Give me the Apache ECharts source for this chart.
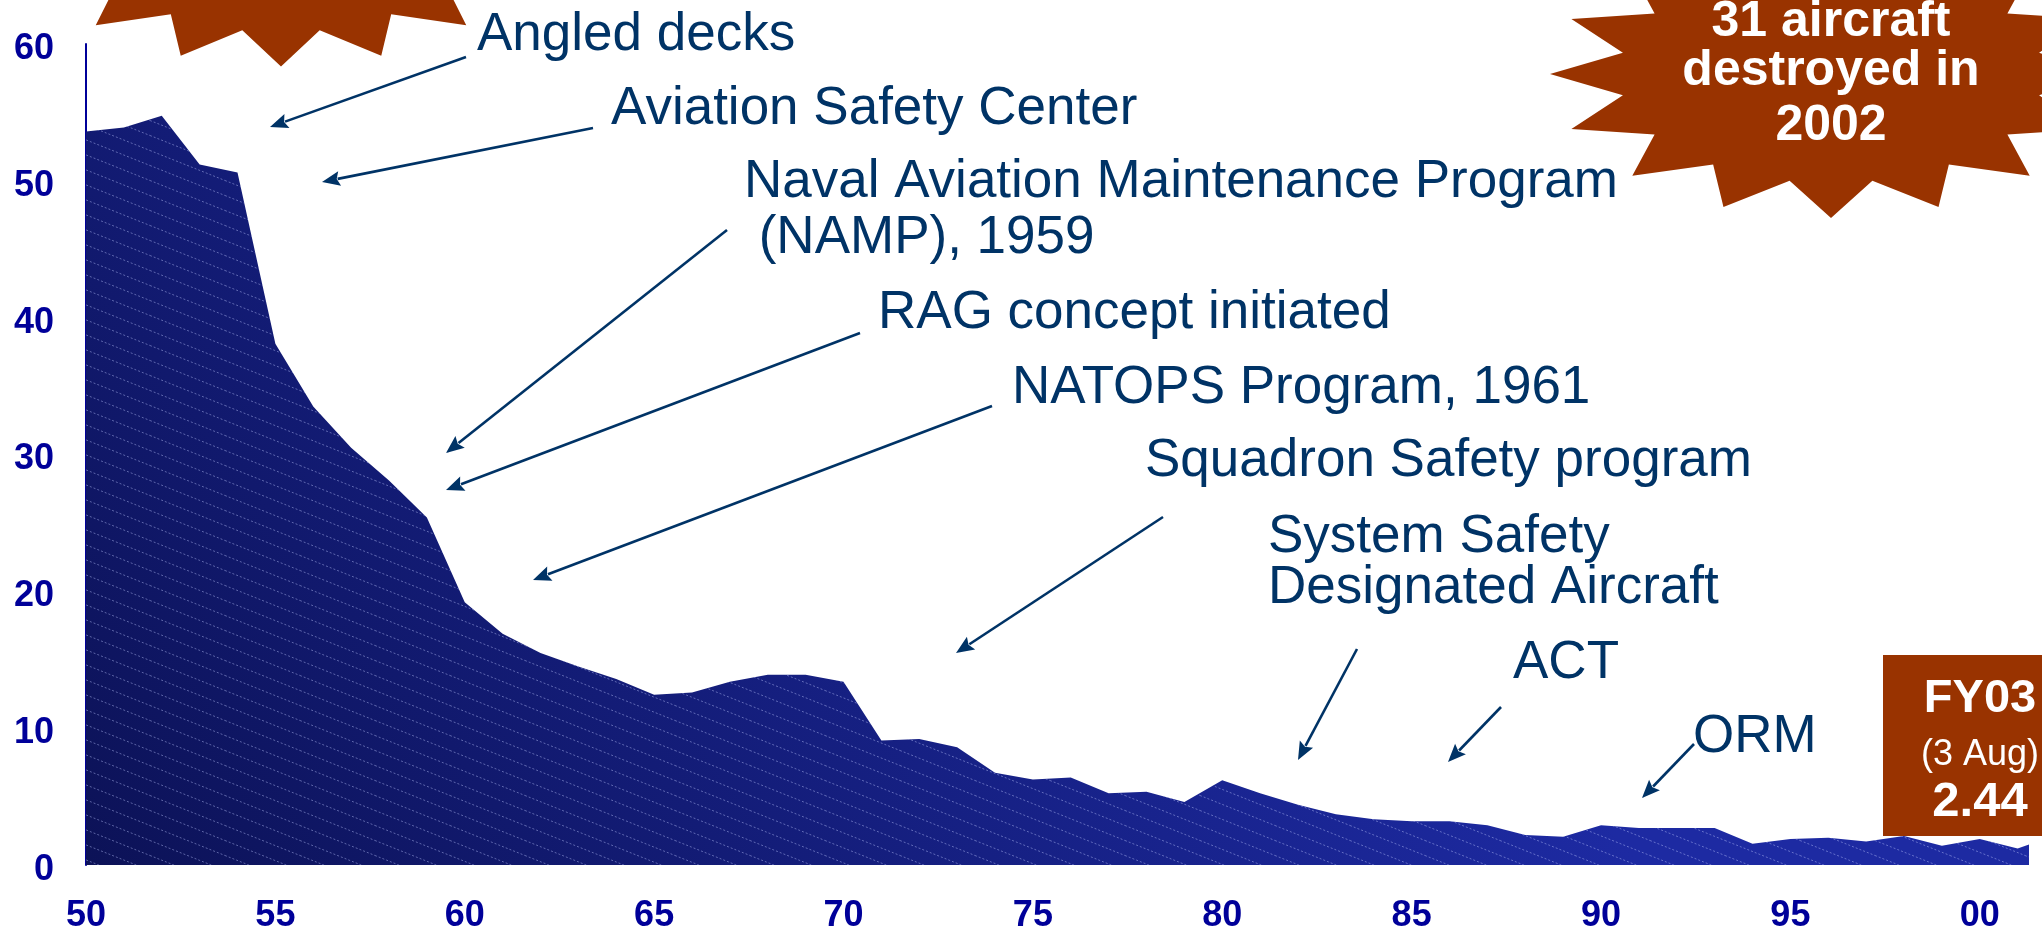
<!DOCTYPE html>
<html><head><meta charset="utf-8">
<script src="https://cdn.jsdelivr.net/npm/echarts@6/dist/echarts.min.js"></script>
<style>html,body{margin:0;padding:0;background:#fff}#c{width:2042px;height:931px}</style>
</head><body><div id="c"></div>
<script>
// ---- data ----
const years = [1950,1951,1952,1953,1954,1955,1956,1957,1958,1959,
               1960,1961,1962,1963,1964,1965,1966,1967,1968,1969,
               1970,1971,1972,1973,1974,1975,1976,1977,1978,1979,
               1980,1981,1982,1983,1984,1985,1986,1987,1988,1989,
               1990,1991,1992,1993,1994,1995,1996,1997,1998,1999,
               2000,2001,2002];
const rates = [53.6,53.9,54.75,51.2,50.6,38.1,33.5,30.5,28.1,25.4,
               19.2,16.9,15.5,14.5,13.6,12.45,12.6,13.4,13.9,13.9,
               13.4,9.1,9.2,8.6,6.75,6.25,6.4,5.25,5.35,4.6,
               6.2,5.25,4.4,3.7,3.35,3.2,3.2,2.9,2.2,2.07,
               2.9,2.7,2.7,2.7,1.55,1.9,2.0,1.72,2.12,1.4,
               1.9,1.2,2.2];
const xTickLabels = ['50','55','60','65','70','75','80','85','90','95','00'];
const yTickValues = [0,10,20,30,40,50,60];
const annotationTexts = ['Angled decks','Aviation Safety Center','Naval Aviation Maintenance Program',
  ' (NAMP), 1959','RAG concept initiated','NATOPS Program, 1961','Squadron Safety program',
  'System Safety','Designated Aircraft','ACT','ORM'];
const burstTexts = ['31 aircraft','destroyed in','2002'];
const fyTexts = ['FY03','(3 Aug)','2.44'];

// ---- layout (positions / styles) ----
const textPos = [[477,35],[611,109],[744,182],[744,238],[878,313],[1012,388],[1145,461],
                 [1268,537],[1268,588],[1513,663],[1693,737]];
const arrows = [[466,57,270,127],[593,128,322,182],[727,230,446,453],[860,333,446,490],
                [992,406,533,580],[1163,517,956,653],[1357,649,1298,760],[1501,707,1448,762],
                [1694,744,1642,798]];
const FONT = '"Liberation Sans", Arial, sans-serif';
const NAVY = '#003366', BROWN = '#993300', AXIS = '#000099';

const seriesData = years.map((y,i)=>[y,rates[i]]);

function starPts(cx,cy,rx,ry,n,inner){
  const p=[];
  for(let i=0;i<2*n;i++){
    const a=Math.PI/2+i*Math.PI/n, r=(i%2)?inner:1;
    p.push([cx+rx*r*Math.cos(a), cy+ry*r*Math.sin(a)]);
  }
  return p;
}
function arrowEls(x1,y1,x2,y2){
  const L=18,H=7.5;
  const dx=x2-x1, dy=y2-y1, d=Math.hypot(dx,dy), ux=dx/d, uy=dy/d;
  const bx=x2-ux*L, by=y2-uy*L;
  return [
    {type:'line',z:100,shape:{x1:x1,y1:y1,x2:bx+ux*2,y2:by+uy*2},style:{stroke:NAVY,lineWidth:2.6}},
    {type:'polygon',z:100,shape:{points:[[x2,y2],[bx-uy*H,by+ux*H],[bx+ux*3,by+uy*3],[bx+uy*H,by-ux*H]]},style:{fill:NAVY}}
  ];
}

// hatch pattern
const pat=document.createElement('canvas');
pat.width=75; pat.height=15;
(function(){
  const g=pat.getContext('2d');
  g.strokeStyle='rgba(190,200,255,0.45)'; g.lineWidth=1; g.setLineDash([2,2]);
  for(let k=-3;k<=2;k++){ g.beginPath(); g.moveTo(0,k*15+0.5); g.lineTo(75,k*15+30.5); g.stroke(); }
})();

const graphics=[];
graphics.push({type:'polygon',z:90,shape:{points:starPts(281,-74.5,262,141,16,0.757)},style:{fill:BROWN}});
graphics.push({type:'polygon',z:90,shape:{points:starPts(1831,74,281,144,16,0.755)},style:{fill:BROWN}});
const bY=[22,71,126];
burstTexts.forEach((t,i)=>graphics.push({type:'text',z:101,x:1831,y:bY[i],
  style:{text:t,fill:'#fff',font:'bold 50px '+FONT,align:'center',verticalAlign:'middle',textAlign:'center',textVerticalAlign:'middle'}}));
graphics.push({type:'rect',z:90,shape:{x:1883,y:655,width:170,height:181},style:{fill:BROWN}});
const fyY=[699,755,802], fyF=['bold 47px ','36px ','bold 49px '];
fyTexts.forEach((t,i)=>graphics.push({type:'text',z:101,x:1980,y:fyY[i],
  style:{text:t,fill:'#fff',font:fyF[i]+FONT,align:'center',verticalAlign:'middle',textAlign:'center',textVerticalAlign:'middle'}}));
annotationTexts.forEach((t,i)=>graphics.push({type:'text',z:101,x:textPos[i][0],y:textPos[i][1],
  style:{text:t,fill:NAVY,font:'53px '+FONT,align:'left',verticalAlign:'middle',textAlign:'left',textVerticalAlign:'middle'}}));
arrows.forEach(a=>graphics.push(...arrowEls(a[0],a[1],a[2],a[3])));

const chart=echarts.init(document.getElementById('c'),null,{renderer:'canvas'});
chart.setOption({
  animation:false,
  backgroundColor:'#fff',
  grid:{left:86,right:13,top:44,bottom:66,containLabel:false,outerBoundsMode:'none'},
  xAxis:{type:'value',min:1950,max:2001.3,interval:5,
    axisLine:{show:false},axisTick:{show:false},splitLine:{show:false},
    axisLabel:{showMaxLabel:false,margin:33,color:AXIS,fontWeight:'bold',fontSize:36,fontFamily:FONT,
      formatter:v=>{const i=Math.round((v-1950)/5);return (Math.abs(v-1950-5*i)<1e-6&&xTickLabels[i]!==undefined)?xTickLabels[i]:'';}}},
  yAxis:{type:'value',min:yTickValues[0],max:yTickValues[yTickValues.length-1],interval:yTickValues[1]-yTickValues[0],
    axisLine:{show:true,lineStyle:{color:AXIS,width:2}},axisTick:{show:false},splitLine:{show:false},
    axisLabel:{margin:32,color:AXIS,fontWeight:'bold',fontSize:36,fontFamily:FONT,verticalAlign:'top',lineHeight:10}},
  series:[
    {type:'line',data:seriesData,symbol:'none',clip:true,lineStyle:{width:0},z:2,
      areaStyle:{opacity:1,color:new echarts.graphic.LinearGradient(0,1,0.5,0,[{offset:0,color:'#0c1257'},{offset:1,color:'#1d2aa2'}])}},
    {type:'line',data:seriesData,symbol:'none',clip:true,lineStyle:{width:0},z:3,
      areaStyle:{opacity:1,color:{image:pat,repeat:'repeat'}}}
  ],
  graphic:graphics
});
</script></body></html>
